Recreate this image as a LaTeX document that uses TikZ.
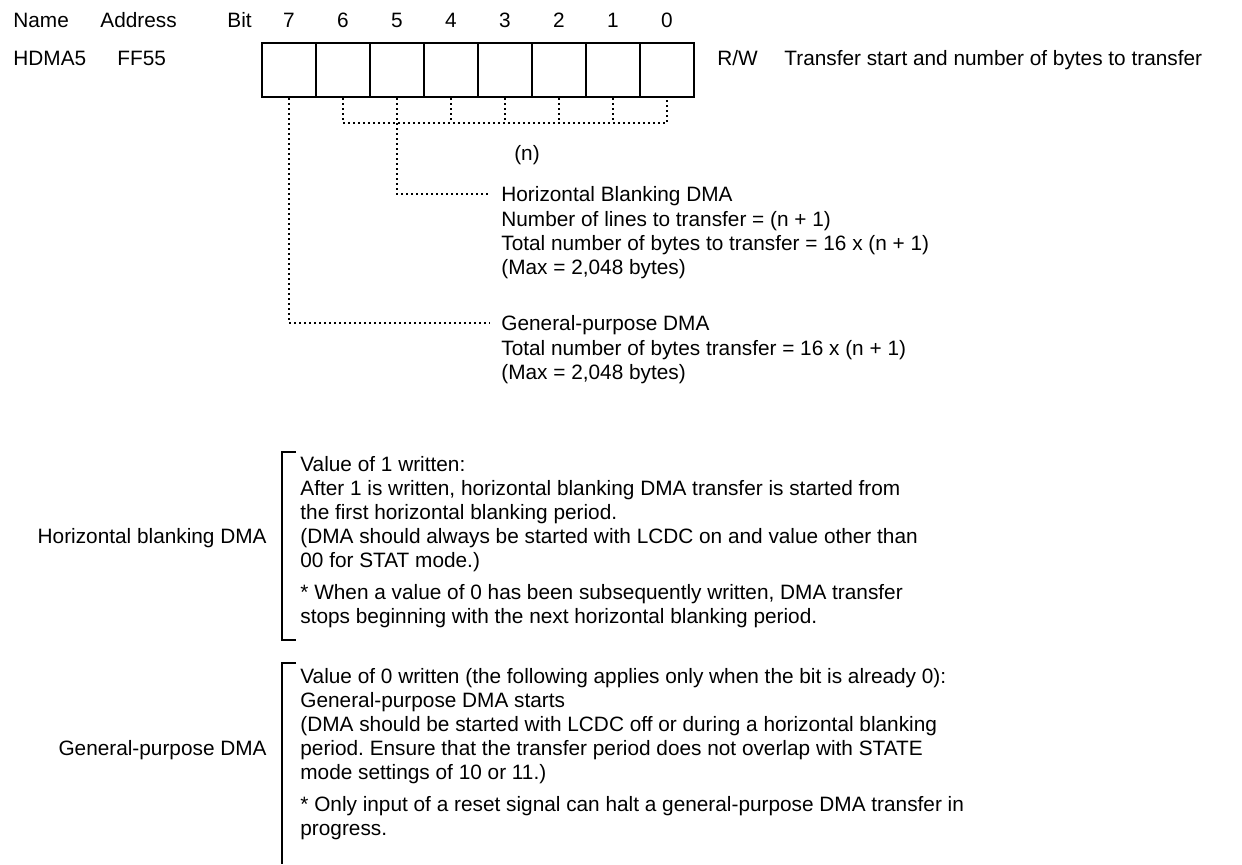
\documentclass[tikz,border=0pt]{standalone}
\usepackage{fontspec}
\setmainfont{Liberation Sans}
\usetikzlibrary{positioning}
\frenchspacing

\tikzset{
  cell/.style={draw, line width=1pt, minimum width=27pt, minimum height=27pt, inner sep=0pt},
  lbl/.style={inner sep=0pt, text height=7.4pt, text depth=0pt},
  blk/.style={inner sep=0pt, align=left, anchor=north west},
  dotline/.style={line width=0.6pt, dash pattern=on 1pt off 1.5pt},
  brk/.style={line width=0.8pt}
}

\begin{document}
\begin{tikzpicture}[x=0.5pt, y=-0.5pt, font=\fontsize{10.4}{12}\selectfont]
  \useasboundingbox (0,0) rectangle (1242,864);

  % Header row
  \node[lbl, anchor=west] (hname) at (13,20) {Name};
  \node[lbl, anchor=west] (haddr) at (100,20) {Address};
  \node[lbl, anchor=west] (hbit) at (227,20) {Bit};

  % Register cells, bit 7 on the left
  \foreach \i in {0,...,7} {
    \node[cell] (b\i) at ({289+54*(7-\i)},70) {};
    \node[lbl] (n\i) at (b\i |- hname) {\i};
  }

  % Register line
  \node[lbl, anchor=west] (rname) at (13,58) {HDMA5};
  \node[lbl, anchor=west] (raddr) at (117,58) {FF55};
  \node[lbl, anchor=west] (rw) at (717,58) {R/W};
  \node[lbl, anchor=west] (rdesc) at (784,58) {Transfer start and number of bytes to transfer};

  % Bits 6-0 give n
  \coordinate (nbus) at (0,123);
  \draw[dotline] (b6.south) -- (b6.south |- nbus) -- (b0.south |- nbus) -- (b0.south);
  \foreach \i in {1,...,4}
    \draw[dotline] (b\i.south) -- (b\i.south |- nbus);
  \node[lbl] (nlab) at (527,153) {(n)};

  % Bit 7 selects the mode
  \node[lbl, anchor=west] (hbt) at (501,194) {Horizontal Blanking DMA};
  \node[blk] (hbb) at (501,211.5) {Number of lines to transfer = (n + 1)\\
    Total number of bytes to transfer = 16 x (n + 1)\\
    (Max = 2,048 bytes)};
  \node[lbl, anchor=west] (gpt) at (501,323) {General-purpose DMA};
  \node[blk] (gpb) at (501,340.5) {Total number of bytes transfer = 16 x (n + 1)\\
    (Max = 2,048 bytes)};

  \draw[dotline] (b5.south) |- ([xshift=-5.5pt]hbt.west);
  \draw[dotline] (b7.south) |- ([xshift=-5.5pt]gpt.west);

  % Writing bit 7
  \node[lbl, anchor=east] (hblab) at (267,536) {Horizontal blanking DMA};
  \draw[brk] (296,452) -- (282,452) -- (282,640) -- (296,640);
  \node[blk] (hbtxt) at (300,456.5) {Value of 1 written:\\
    After 1 is written, horizontal blanking DMA transfer is started from\\
    the first horizontal blanking period.\\
    (DMA should always be started with LCDC on and value other than\\
    00 for STAT mode.)\\[4pt]
    * When a value of 0 has been subsequently written, DMA transfer\\
    stops beginning with the next horizontal blanking period.};

  \node[lbl, anchor=east] (gplab) at (267,748) {General-purpose DMA};
  \draw[brk] (296,663) -- (282,663) -- (282,864);
  \node[blk] (gptxt) at (300,668.5) {Value of 0 written (the following applies only when the bit is already 0):\\
    General-purpose DMA starts\\
    (DMA should be started with LCDC off or during a horizontal blanking\\
    period. Ensure that the transfer period does not overlap with STATE\\
    mode settings of 10 or 11.)\\[4pt]
    * Only input of a reset signal can halt a general-purpose DMA transfer in\\
    progress.};
\end{tikzpicture}
\end{document}
